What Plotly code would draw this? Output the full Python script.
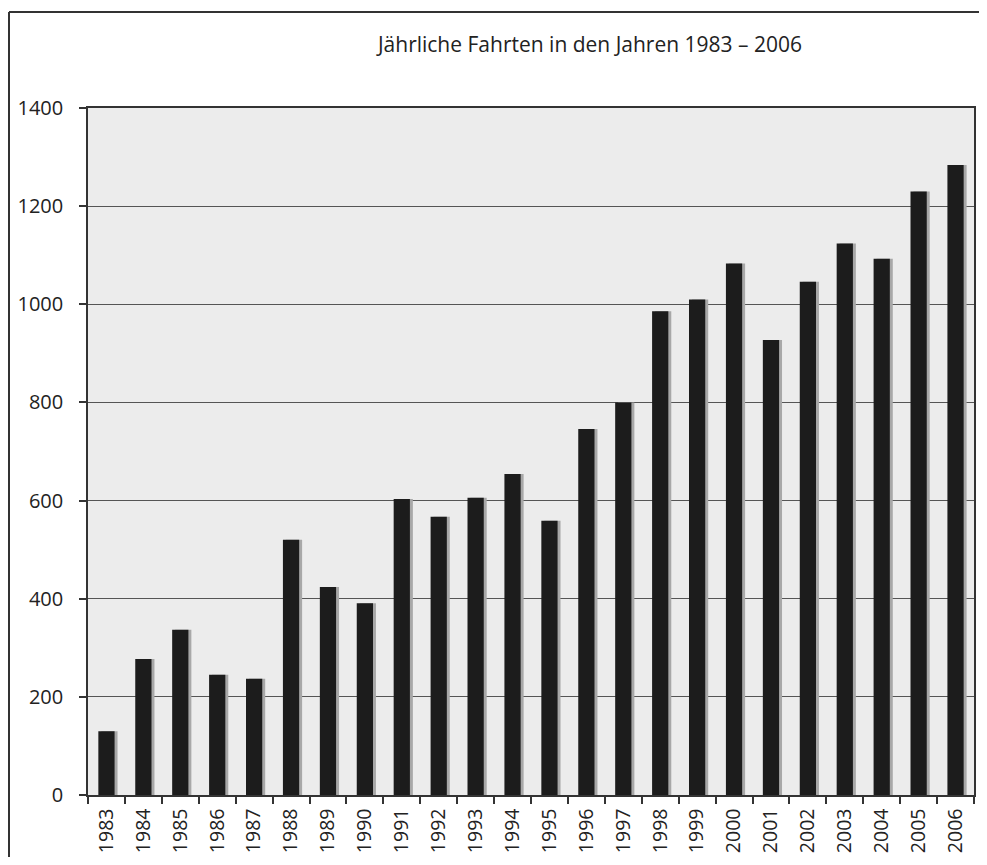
import plotly.graph_objects as go

years = ["1983", "1984", "1985", "1986", "1987", "1988", "1989", "1990", "1991", "1992",
         "1993", "1994", "1995", "1996", "1997", "1998", "1999", "2000", "2001", "2002",
         "2003", "2004", "2005", "2006"]
fahrten = [130, 277, 337, 245, 237, 520, 424, 391, 603, 567,
           606, 654, 559, 746, 800, 986, 1010, 1083, 927, 1046,
           1124, 1093, 1230, 1284]
y_ticks = [0, 200, 400, 600, 800, 1000, 1200, 1400]
title_text = "Jährliche Fahrten in den Jahren 1983 – 2006"

FONT = "Open Sans"

# page body has an 8px margin, so the figure is sized to fit inside it
W, H = 979, 849
L, R, T, B = 80, 13, 100, 62
PW, PH = W - L - R, H - T - B

fig = go.Figure()
# soft shadow behind bars
fig.add_trace(go.Bar(x=years, y=fahrten, width=0.44, offset=-0.14,
                     marker=dict(color="#a8a8a8", line=dict(width=0)),
                     hoverinfo="skip", showlegend=False))
fig.add_trace(go.Bar(x=years, y=fahrten, width=0.44, offset=-0.22,
                     marker=dict(color="#1c1c1c", line=dict(width=0)),
                     showlegend=False))

fig.update_layout(
    width=W, height=H,
    barmode="overlay",
    paper_bgcolor="white",
    plot_bgcolor="#ececec",
    margin=dict(l=L, r=R, t=T, b=B),
    font=dict(family=FONT, color="#222", size=19),
    title=dict(text=title_text, x=582 / W, xref="container", xanchor="center",
               y=1 - 37 / H, yref="container", yanchor="middle",
               font=dict(family=FONT, size=21, color="#222")),
    xaxis=dict(type="category", tickson="boundaries", ticks="outside", ticklen=7,
               tickcolor="#333", tickwidth=1.5, tickangle=-90, ticklabelstandoff=4,
               showline=True, linecolor="#333", linewidth=1.5, mirror=True,
               automargin=False,
               showgrid=False, tickfont=dict(size=19.5, family=FONT, color="#222")),
    yaxis=dict(range=[0, 1400], tickvals=y_ticks, ticks="outside", ticklen=7,
               tickcolor="#333", tickwidth=1.5, ticklabelstandoff=12,
               showline=True, linecolor="#333", linewidth=1.5, mirror=True,
               automargin=False,
               showgrid=True, gridcolor="#555", gridwidth=1, zeroline=False,
               tickfont=dict(size=20, family=FONT, color="#222")),
)

# outer frame of the figure (top and left edges)
fig.add_shape(type="line", xref="paper", yref="paper",
              x0=(1 - L) / PW, x1=(W + 10 - L) / PW,
              y0=(T + PH - 4) / PH, y1=(T + PH - 4) / PH,
              line=dict(color="#333", width=2))
fig.add_shape(type="line", xref="paper", yref="paper",
              x0=(1 - L) / PW, x1=(1 - L) / PW,
              y0=(T + PH - 4) / PH, y1=(T + PH - H - 10) / PH,
              line=dict(color="#333", width=2))

fig.write_html("out.html")
